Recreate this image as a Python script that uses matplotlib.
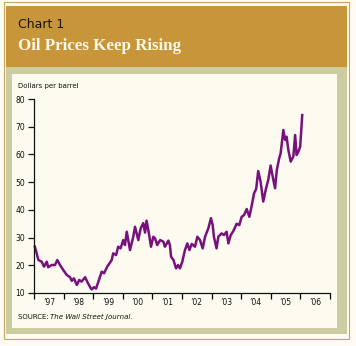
import matplotlib
matplotlib.use("Agg")
import matplotlib.pyplot as plt
from matplotlib.patches import Rectangle
from matplotlib.text import Annotation

# ---- data ----
years = [1997.02, 1997.14, 1997.25, 1997.33, 1997.42, 1997.47, 1997.59, 1997.70, 1997.78, 1997.87,
         1997.98, 1998.10, 1998.21, 1998.27, 1998.34, 1998.44, 1998.52, 1998.60, 1998.72, 1998.79,
         1998.89, 1998.94, 1999.02, 1999.09, 1999.17, 1999.28, 1999.36, 1999.47, 1999.62, 1999.67,
         1999.77, 1999.84, 1999.92, 2000.01, 2000.07, 2000.13, 2000.24, 2000.35, 2000.41, 2000.52,
         2000.60, 2000.69, 2000.75, 2000.80, 2000.89, 2000.95, 2001.03, 2001.09, 2001.16, 2001.26,
         2001.37, 2001.42, 2001.54, 2001.59, 2001.63, 2001.71, 2001.80, 2001.87, 2001.93, 2002.01,
         2002.10, 2002.18, 2002.25, 2002.33, 2002.44, 2002.52, 2002.61, 2002.70, 2002.78, 2002.89,
         2002.98, 2003.04, 2003.08, 2003.17, 2003.23, 2003.34, 2003.42, 2003.51, 2003.57, 2003.65,
         2003.74, 2003.85, 2003.94, 2004.02, 2004.10, 2004.19, 2004.28, 2004.36, 2004.44, 2004.51,
         2004.58, 2004.66, 2004.75, 2004.85, 2004.92, 2005.00, 2005.07, 2005.15, 2005.21, 2005.29,
         2005.34, 2005.43, 2005.49, 2005.54, 2005.60, 2005.68, 2005.77, 2005.83, 2005.88, 2005.94,
         2006.00, 2006.03, 2006.07]
prices = [26.7, 21.9, 21.3, 19.5, 21.3, 19.3, 20.1, 20.1, 21.9, 20.1,
          18.3, 16.5, 15.7, 14.4, 15.3, 12.9, 14.7, 14.1, 15.7, 14.1,
          12.1, 11.3, 12.1, 11.6, 14.1, 17.7, 17.1, 19.5, 21.9, 24.3,
          23.7, 26.7, 26.1, 29.1, 27.3, 32.1, 25.5, 30.3, 33.9, 29.1,
          33.3, 35.2, 31.8, 36.1, 30.9, 26.7, 30.3, 29.7, 27.3, 29.1,
          28.5, 26.7, 28.9, 27.3, 23.1, 21.9, 18.9, 20.1, 18.9, 21.3,
          25.5, 27.9, 25.5, 27.7, 26.7, 30.3, 29.1, 26.1, 30.3, 33.3,
          37.0, 34.5, 30.3, 26.1, 30.3, 31.5, 30.9, 32.1, 27.9, 30.9,
          32.4, 35.0, 34.5, 37.5, 38.1, 40.3, 37.5, 41.5, 46.0, 47.5,
          54.0, 50.2, 43.0, 48.0, 50.8, 56.0, 52.0, 47.8, 54.4, 58.6,
          60.4, 68.8, 65.2, 66.4, 61.6, 57.4, 59.3, 67.0, 59.8, 61.0,
          62.8, 67.6, 74.2]
year_ticks = list(range(1997, 2008))
year_labels = ["’97", "’98", "’99", "’00", "’01", "’02", "’03", "’04", "’05", "’06"]
y_ticks = [10, 20, 30, 40, 50, 60, 70, 80]

W, H = 356, 346
fig = plt.figure(figsize=(W / 100, H / 100), dpi=100)
fig.patch.set_facecolor("#FDFBF2")

def px_rect(x0, y0, x1, y1, z, **kw):
    r = Rectangle((x0 / W, 1 - y1 / H), (x1 - x0) / W, (y1 - y0) / H,
                  transform=fig.transFigure, zorder=z, **kw)
    fig.add_artist(r)

# frame, bands
px_rect(4, 2, 349, 339, 0.1, facecolor="none", edgecolor="#C9A467", lw=0.8)
px_rect(6, 6, 347, 334, 0.2, facecolor="#CDCCA0", edgecolor="none")
px_rect(6, 6, 347, 67, 0.3, facecolor="#C8963A", edgecolor="none")
px_rect(12, 74, 337, 328, 0.3, facecolor="#FDFAEF", edgecolor="none")

sans = ["DejaVu Sans"]

fig.text(18 / W, 1 - 28.5 / H, "Chart 1", family=sans, fontsize=9, color="#1E1206",
         va="baseline", ha="left", zorder=5)
fig.text(18 / W, 1 - 50 / H, "Oil Prices Keep Rising", family="Liberation Serif",
         fontweight="bold", fontsize=12.2, color="#FFF9EA", va="baseline", ha="left", zorder=5)

fig.text(17.5 / W, 1 - 86 / H, "Dollars per barrel", family=sans, fontsize=5,
         color="#111111", va="center", ha="left", zorder=5)

ax = fig.add_axes([34.3 / W, (H - 293) / H, (329.7 - 34.3) / W, (293 - 99) / H])
ax.set_zorder(10)
ax.set_facecolor("none")
ax.plot(years, prices, color="#77127C", lw=1.8, solid_joinstyle="round", clip_on=False)
ax.set_xlim(year_ticks[0], year_ticks[-1])
ax.set_ylim(y_ticks[0], y_ticks[-1])
for s in ["top", "right"]:
    ax.spines[s].set_visible(False)
for s in ["left", "bottom"]:
    ax.spines[s].set_linewidth(0.9)
    ax.spines[s].set_color("#111111")
ax.set_yticks(y_ticks)
ax.set_yticklabels([str(v) for v in y_ticks], family=sans, fontsize=5.5)
ax.set_xticks(year_ticks)
ax.set_xticklabels([])
ax.set_xticks([y + 0.5 for y in year_ticks[:-1]], minor=True)
ax.set_xticklabels(year_labels, minor=True, family=sans, fontsize=5.5)
ax.tick_params(axis="y", direction="out", length=4, width=0.9, pad=2.5, colors="#111111")
ax.tick_params(axis="x", which="major", direction="out", length=4, width=0.9)
ax.tick_params(axis="x", which="minor", length=0, pad=3.5, colors="#111111")

t1 = fig.text(17.5 / W, 1 - 317 / H, "SOURCE: ", family=sans, fontsize=5,
              color="#111111", va="center", ha="left", zorder=5)
src = Annotation("The Wall Street Journal.", xy=(1, 0), xycoords=t1,
                 va="bottom", ha="left", family=sans, fontsize=5,
                 style="italic", color="#111111")
src.set_zorder(5)
fig.add_artist(src)

fig.savefig("out.png", dpi=100, facecolor=fig.get_facecolor())
